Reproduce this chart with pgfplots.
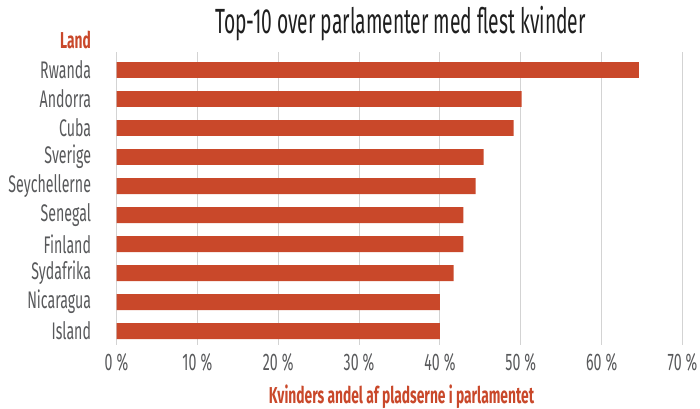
\documentclass[border=0pt]{standalone}
\usepackage{pgfplots}
\pgfplotsset{compat=1.18}
\usepackage{fontspec}
\setmainfont[FakeStretch=0.59]{Fira Sans}
\newfontfamily\titlefont[FakeStretch=0.55]{Fira Sans}
\newfontfamily\labfont[FakeStretch=0.6]{Fira Sans}
\definecolor{barred}{HTML}{C9482A}
\definecolor{labgray}{HTML}{58595B}
\definecolor{gridgray}{HTML}{D3D3D3}
\begin{document}
\begin{tikzpicture}
\begin{axis}[
    xbar,
    scale only axis,
    width=566pt,
    height=293pt,
    at={(0,0)},
    anchor=south west,
    xmin=0, xmax=70,
    ymin=-0.62, ymax=9.48,
    y dir=reverse,
    bar width=0.55,
    axis line style={draw=none},
    xtick={0,10,...,70},
    xticklabel={\pgfmathprintnumber{\tick}\,\%},
    ytick={0,...,9},
    yticklabels={Rwanda,Andorra,Cuba,Sverige,Seychellerne,Senegal,Finland,Sydafrika,Nicaragua,Island},
    major tick length=0pt,
    xmajorgrids,
    grid style={gridgray, line width=1pt},
    /pgf/number format/assume math mode=true,
    tick label style={font=\fontsize{24}{24}\selectfont, text=labgray},
    yticklabel style={xshift=-22pt},
    xticklabel style={yshift=-5pt},
]
\addplot[fill=barred, draw=none] coordinates {
    (64.6,0) (50.1,1) (49.1,2) (45.4,3) (44.4,4)
    (42.9,5) (42.9,6) (41.7,7) (40.0,8) (40.0,9)
};
\end{axis}
\node[anchor=center, font=\titlefont\fontsize{35}{35}\selectfont, text=black!88] at (284pt,321pt) {Top-10 over parlamenter med flest kvinder};
\node[anchor=east, font=\labfont\bfseries\fontsize{23}{23}\selectfont, text=barred] at (-22pt,305pt) {Land};
\node[anchor=north, font=\labfont\bfseries\fontsize{23}{23}\selectfont, text=barred, inner sep=1pt] at (285pt,-39pt) {Kvinders andel af pladserne i parlamentet};
\pgfresetboundingbox
\path[use as bounding box] (-116.5pt,-63pt) rectangle (583.5pt,345pt);
\end{tikzpicture}
\end{document}
